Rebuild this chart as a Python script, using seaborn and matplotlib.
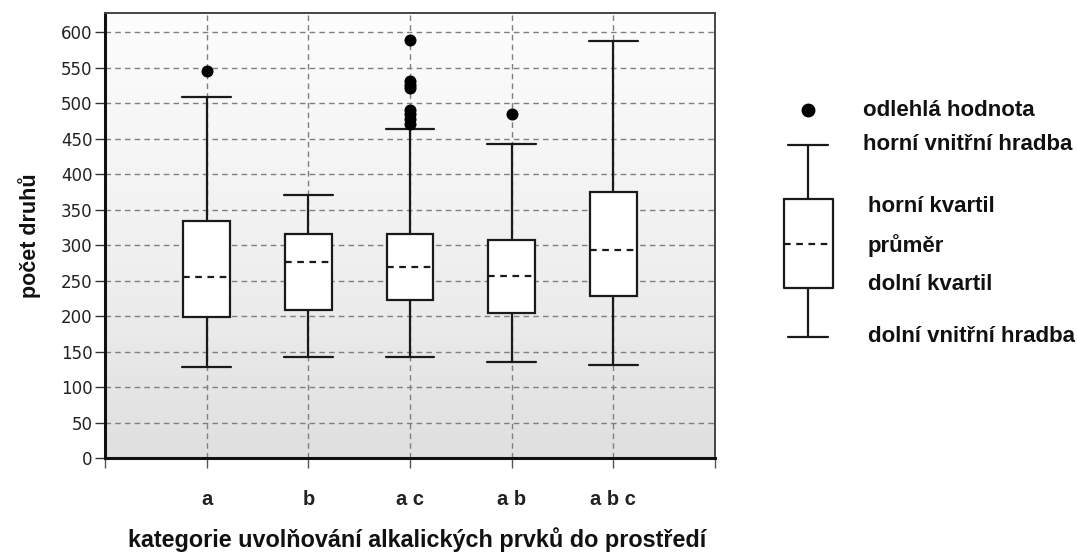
import numpy as np
import matplotlib
matplotlib.use("Agg")
import matplotlib.pyplot as plt
import seaborn as sns
import pandas as pd

# box statistics (počet druhů)
categories = ["a", "b", "a c", "a b", "a b c"]
fence_low = [128, 142, 142, 135, 131]
q1 = [199, 209, 222, 205, 228]
mean = [255, 276, 269, 256, 293]
q3 = [334, 315, 315, 307, 375]
fence_high = [509, 371, 463, 443, 588]

# outliers
outlier_cat = ["a", "a c", "a c", "a c", "a c", "a c", "a c", "a c", "a c", "a b"]
outlier_val = [545, 589, 531, 526, 521, 491, 484, 477, 470, 485]

y_ticks = list(range(0, 601, 50))

sns.set_theme(style="white")
plt.rcParams["font.family"] = ["DejaVu Sans"]

fig = plt.figure(figsize=(10.77, 5.53), dpi=100)
ax = fig.add_axes([105 / 1077, 95 / 553, 610 / 1077, 445 / 553])

pos = np.arange(len(categories))

# gradient background, white at the top to light grey at the bottom
grad = np.linspace(0, 1, 256).reshape(-1, 1)
ax.imshow(grad, extent=[-1, 5, 0, 627], aspect="auto", cmap="Greys",
          vmin=-0.1, vmax=5.0, origin="upper", zorder=0)

stats = []
for i, c in enumerate(categories):
    stats.append({"label": c, "whislo": fence_low[i], "q1": q1[i], "med": mean[i],
                  "q3": q3[i], "whishi": fence_high[i], "fliers": []})

line = dict(color="#1a1a1a", linewidth=1.6)
ax.bxp(stats, positions=pos, widths=0.46, showfliers=False, patch_artist=True,
       boxprops=dict(facecolor="white", edgecolor="#1a1a1a", linewidth=1.6),
       whiskerprops=line, capprops=line, capwidths=0.48,
       medianprops=dict(color="#1a1a1a", linewidth=1.6, linestyle=(0, (3, 2.5))),
       zorder=3)

out = pd.DataFrame({"kat": [categories.index(c) for c in outlier_cat], "val": outlier_val})
sns.scatterplot(data=out, x="kat", y="val", ax=ax, color="black", s=75,
                marker="o", edgecolor="black", linewidth=0, zorder=4, legend=False)

ax.set_xlim(-1, 5)
ax.set_ylim(0, 627)
ax.set_yticks(y_ticks)
ax.set_yticklabels([str(v) for v in y_ticks], fontsize=12, color="#222222")
ax.set_xticks(list(range(-1, 6)))
ax.set_xticklabels([""] + categories + [""], fontsize=14.5, fontweight="bold",
                   family="Liberation Sans", color="#222222")
ax.tick_params(axis="y", length=7, width=1, color="#333333", pad=2, left=True)
ax.tick_params(axis="x", length=7, width=1, color="#555555", pad=16, bottom=True)

for v in y_ticks[1:]:
    ax.axhline(v, color="#7f7f7f", lw=1, ls=(0, (4, 3)), zorder=1)
for p in pos:
    ax.axvline(p, color="#7f7f7f", lw=1, ls=(0, (4, 3)), zorder=1)

for s in ["left", "bottom"]:
    ax.spines[s].set_color("#111111")
    ax.spines[s].set_linewidth(2.2)
for s in ["top", "right"]:
    ax.spines[s].set_color("#444444")
    ax.spines[s].set_linewidth(1.4)

ax.set_xlabel("kategorie uvolňování alkalických prvků do prostředí", fontsize=16.8,
              fontweight="bold", family="Liberation Sans", color="#111111")
ax.xaxis.set_label_coords(0.511, -0.155)
ax.set_ylabel("počet druhů", fontsize=15.5, fontweight="bold", family="Liberation Sans",
              labelpad=14, color="#111111")

# schematic legend on the right, in pixel coordinates
lg = fig.add_axes([0, 0, 1, 1])
lg.set_xlim(0, 1077)
lg.set_ylim(553, 0)
lg.axis("off")
lk = dict(color="#1a1a1a", lw=1.6)
lg.plot([808], [110], "o", color="black", ms=9)
lg.plot([788, 828], [145, 145], **lk)
lg.plot([808, 808], [145, 199], **lk)
lg.plot([784, 833, 833, 784, 784], [199, 199, 288, 288, 199], **lk)
lg.plot([784, 833], [244, 244], color="#1a1a1a", lw=1.6, ls=(0, (3, 2.5)))
lg.plot([808, 808], [288, 337], **lk)
lg.plot([788, 828], [337, 337], **lk)
tk = dict(fontsize=16, fontweight="bold", family="Liberation Sans", va="center",
          color="#111111")
lg.text(863, 110, "odlehlá hodnota", **tk)
lg.text(863, 145, "horní vnitřní hradba", **tk)
lg.text(868, 207, "horní kvartil", **tk)
lg.text(868, 246, "průměr", **tk)
lg.text(868, 285, "dolní kvartil", **tk)
lg.text(868, 336, "dolní vnitřní hradba", **tk)

fig.savefig("out.png", dpi=100)
